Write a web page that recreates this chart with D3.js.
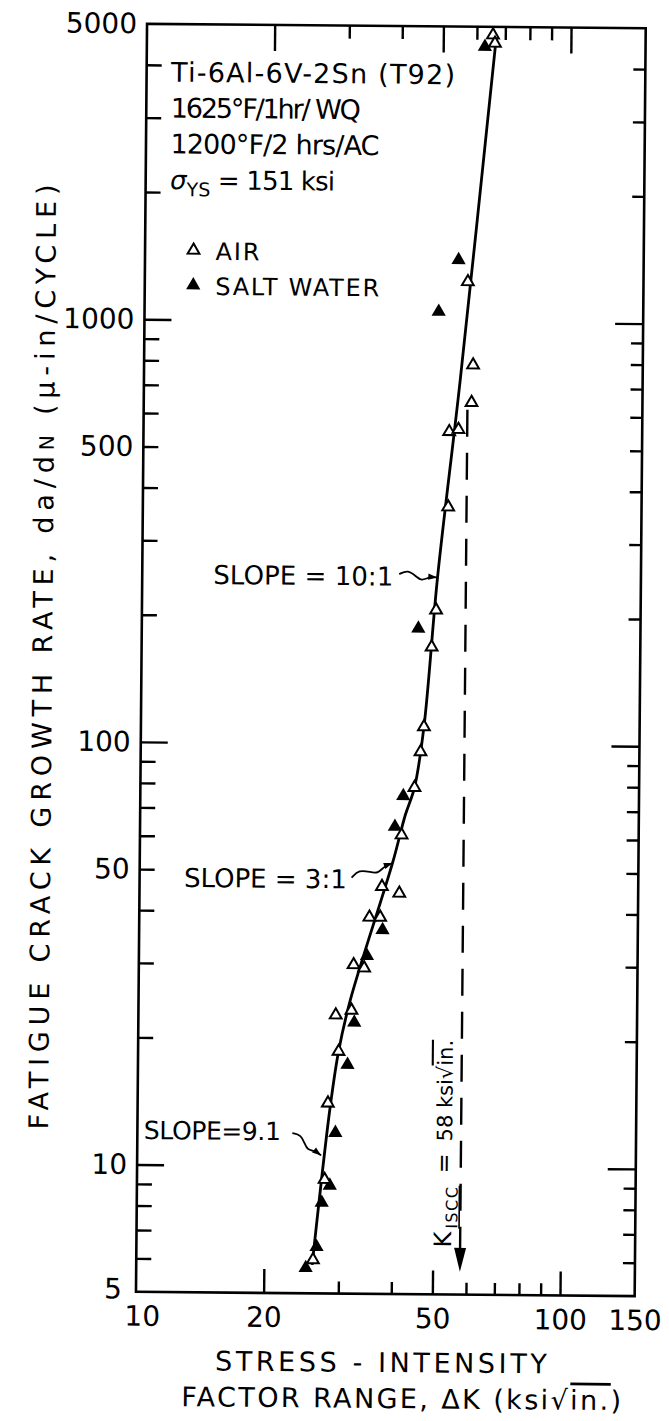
<!DOCTYPE html>
<html>
<head>
<meta charset="utf-8">
<script src="https://cdn.jsdelivr.net/npm/d3@7"></script>
<style>
  html, body { margin: 0; padding: 0; background: #fff; }
  svg { display: block; background: #fff; }
  text { font-family: "DejaVu Sans", sans-serif; fill: #000; }
</style>
</head>
<body>
<svg id="chart" width="669" height="1421"></svg>
<script>
// axis ticks
var xLabels = [10, 20, 50, 100, 150];
var xMajor = [20, 50, 100];
var xMinor = [30, 40, 60, 70, 80, 90];
var yLabels = [5, 10, 50, 100, 500, 1000, 5000];
var yMajor = [10, 100, 1000];
var yMinor = [6, 7, 8, 9, 20, 30, 40, 50, 60, 70, 80, 90,
	200, 300, 400, 500, 600, 700, 800, 900, 2000, 3000, 4000];

// AIR (open triangles): delta K (ksi sqrt in) and da/dN (micro-in/cycle)
var airDK = [65.5, 66.2, 57.8, 59.7, 59.3, 52.6, 55.3, 52.5, 49.4, 48.3, 46.5, 45.7, 44.3,
	41.4, 37.3, 41.0, 34.9, 37.0, 32.1, 34.0, 31.8, 29.2, 29.7, 28.1, 27.7, 26.1];
var airRate = [4785, 4573, 1246, 792, 645, 550, 557, 365, 208, 170, 110, 96, 79,
	61, 46, 44.4, 38.9, 38.9, 30.0, 29.5, 23.4, 22.8, 18.7, 14.1, 9.3, 6.0];

// SALT WATER (filled triangles)
var saltDK = [62.7, 54.9, 49.4, 44.9, 41.7, 39.9, 37.5, 34.5, 32.3, 31.2, 29.3, 28.5, 27.3, 26.6, 25.1];
var saltRate = [4486, 1402, 1057, 188, 75.4, 63.8, 36.3, 31.5, 21.9, 17.4, 12.0, 9.0, 8.2, 6.44, 5.74];

// faired curve through the data
var fitDK = [66.5, 55.7, 49.7, 46.5, 44.3, 42.2, 39.5, 31.6, 29.7, 28.4, 26.0];
var fitRate = [4600, 729, 248, 110, 79, 68, 52.5, 24.8, 18.7, 13.6, 5.84];

// K_ISCC marker line
var kIscc = 58;
var kIsccTop = 620;
var kIsccTip = 5.66;

var W = 498.7, H = 1268;
var svg = d3.select('#chart');

// the scan is tilted a little, so the whole chart is turned with it
var root = svg.append('g').attr('transform', 'rotate(0.5 391 660)');
var plot = root.append('g').attr('transform', 'translate(141.5,26)');

var x = d3.scaleLog().domain([10, 150]).range([0, W]);
var y = d3.scaleLog().domain([5, 5000]).range([H, 0]);

function ticks(axisFn, scale, vals, len, tx, ty) {
	var g = plot.append('g')
		.attr('transform', 'translate(' + tx + ',' + ty + ')')
		.call(axisFn(scale).tickValues(vals).tickSize(-len).tickFormat(''));
	g.select('.domain').remove();
	g.selectAll('line').attr('stroke', '#000').attr('stroke-width', 2.4);
}
ticks(d3.axisBottom, x, xMajor, 24, 0, H);
ticks(d3.axisBottom, x, xMinor, 12, 0, H);
ticks(d3.axisTop, x, xMajor, 26, 0, 0);
ticks(d3.axisTop, x, xMinor, 13, 0, 0);
ticks(d3.axisLeft, y, yMajor, 27, 0, 0);
ticks(d3.axisLeft, y, yMinor, 15, 0, 0);
ticks(d3.axisRight, y, yMajor, 28, W, 0);
ticks(d3.axisRight, y, yMinor, 12, W, 0);

plot.append('rect')
	.attr('width', W).attr('height', H)
	.attr('fill', 'none').attr('stroke', '#000').attr('stroke-width', 2.6);

// tick labels
var xl = plot.append('g').attr('transform', 'translate(0,' + H + ')')
	.call(d3.axisBottom(x).tickValues(xLabels).tickSize(0).tickPadding(14).tickFormat(d3.format('d')));
xl.select('.domain').remove();
xl.selectAll('text').attr('font-size', 28)
	.attr('dx', function (d) { return d === 10 ? 6 : 0; });

var yl = plot.append('g')
	.call(d3.axisLeft(y).tickValues(yLabels).tickSize(0).tickPadding(10).tickFormat(d3.format('d')));
yl.select('.domain').remove();
yl.selectAll('text').attr('font-size', 28)
	.attr('dx', function (d) { return d === 5 ? -4 : 0; })
	.attr('dy', function (d) { return d === 5 ? '0.22em' : '0.32em'; });

// K_ISCC dashed line with arrow
var kx = x(kIscc);
plot.append('line')
	.attr('x1', kx).attr('x2', kx)
	.attr('y1', y(kIsccTop)).attr('y2', y(kIsccTip) - 22)
	.attr('stroke', '#000').attr('stroke-width', 2.4)
	.attr('stroke-dasharray', '27,16');
plot.append('path')
	.attr('d', 'M' + (kx - 6) + ',' + (y(kIsccTip) - 24) + 'L' + (kx + 6) + ',' + (y(kIsccTip) - 24) +
		'L' + kx + ',' + y(kIsccTip) + 'Z')
	.attr('fill', '#000');

var kt = plot.append('text')
	.attr('transform', 'translate(' + (kx - 9) + ',' + (H - 47) + ') rotate(-90)')
	.attr('font-size', 24);
kt.append('tspan').text('K');
kt.append('tspan').attr('font-size', 16).attr('dy', 6).attr('dx', 3)
	.attr('letter-spacing', 1.5).style('text-decoration', 'underline').text('ISCC');
kt.append('tspan').attr('dy', -6).text('\u2002=\u2002');
kt.append('tspan').attr('font-size', 21).text('58 ksi\u221A');
kt.append('tspan').attr('font-size', 21).style('text-decoration', 'overline').text('in.');

// faired curve
var fitPts = fitDK.map(function (d, i) { return [x(d), y(fitRate[i])]; });
plot.append('path')
	.attr('d', d3.line().curve(d3.curveCatmullRom.alpha(0.5))(fitPts))
	.attr('fill', 'none').attr('stroke', '#000').attr('stroke-width', 2.8);

// data points
var openTri = d3.symbol().type(d3.symbolTriangle).size(60);
var fillTri = d3.symbol().type(d3.symbolTriangle).size(88);

plot.selectAll('.salt').data(saltDK).enter().append('path')
	.attr('class', 'salt')
	.attr('d', fillTri)
	.attr('transform', function (d, i) { return 'translate(' + x(d) + ',' + y(saltRate[i]) + ')'; })
	.attr('fill', '#000');

plot.selectAll('.air').data(airDK).enter().append('path')
	.attr('class', 'air')
	.attr('d', openTri)
	.attr('transform', function (d, i) { return 'translate(' + x(d) + ',' + y(airRate[i]) + ')'; })
	.attr('fill', '#fff').attr('stroke', '#000').attr('stroke-width', 2);

// material block
var header = [
	{ t: 'Ti-6Al-6V-2Sn (T92)', len: 284 },
	{ t: '1625\u00B0F/1hr/ WQ', len: 190 },
	{ t: '1200\u00B0F/2 hrs/AC', len: 209 }
];
header.forEach(function (h, i) {
	plot.append('text')
		.attr('x', 24.5).attr('y', 57.6 + i * 35.8)
		.attr('font-size', 27)
		.attr('textLength', h.len).attr('lengthAdjust', 'spacing')
		.text(h.t);
});
var sig = plot.append('text')
	.attr('x', 24.5).attr('y', 57.6 + 3 * 35.8)
	.attr('font-size', 26);
sig.append('tspan').attr('font-style', 'italic').text('\u03C3');
sig.append('tspan').attr('font-size', 19).attr('dy', 7).text('YS');
sig.append('tspan').attr('dy', -7).attr('letter-spacing', -0.8).text(' = 151 ksi');

// legend
plot.append('path').attr('d', openTri)
	.attr('transform', 'translate(48.5,226)')
	.attr('fill', '#fff').attr('stroke', '#000').attr('stroke-width', 2);
plot.append('path').attr('d', fillTri)
	.attr('transform', 'translate(48.5,261)').attr('fill', '#000');
plot.append('text').attr('x', 70.5).attr('y', 235.5).attr('font-size', 24)
	.attr('textLength', 44).attr('lengthAdjust', 'spacing').text('AIR');
plot.append('text').attr('x', 70.5).attr('y', 270.5).attr('font-size', 24)
	.attr('textLength', 164).attr('lengthAdjust', 'spacing').text('SALT WATER');

// slope notes with wavy leaders
function leader(x0, y0, x1, y1, amp) {
	var dx = x1 - x0, dy = y1 - y0, L = Math.hypot(dx, dy),
		ux = dx / L, uy = dy / L, nx = -uy, ny = ux;
	function p(t, o) { return [x0 + dx * t + nx * o, y0 + dy * t + ny * o]; }
	var pts = [p(0, 0), p(0.22, -amp), p(0.45, amp * 0.2), p(0.6, amp), p(0.8, 0), p(1, 0)];
	plot.append('path')
		.attr('d', d3.line().curve(d3.curveBasis)(pts))
		.attr('fill', 'none').attr('stroke', '#000').attr('stroke-width', 1.8);
	plot.append('path')
		.attr('d', 'M' + x1 + ',' + y1 +
			'L' + (x1 - ux * 9 + nx * 3.2) + ',' + (y1 - uy * 9 + ny * 3.2) +
			'L' + (x1 - ux * 9 - nx * 3.2) + ',' + (y1 - uy * 9 - ny * 3.2) + 'Z')
		.attr('fill', '#000');
}

plot.append('text').attr('x', 71.1).attr('y', 559.6).attr('font-size', 26)
	.attr('textLength', 180).attr('lengthAdjust', 'spacing').text('SLOPE = 10:1');
leader(257, 548, 295, 551, 5);

plot.append('text').attr('x', 207.2).attr('y', 862.7).attr('font-size', 26)
	.attr('text-anchor', 'end').text('SLOPE = 3:1');
leader(212, 852, 253, 837, 5);

plot.append('text').attr('x', 6.5).attr('y', 1115.2).attr('font-size', 25)
	.attr('textLength', 137).attr('lengthAdjust', 'spacing').text('SLOPE=9.1');
leader(155, 1108, 184, 1130, 4);

// axis titles
var yt = plot.append('text')
	.attr('transform', 'translate(-89.5,' + (H / 2) + ') rotate(-90)')
	.attr('text-anchor', 'middle').attr('font-size', 27)
	.attr('textLength', 945).attr('lengthAdjust', 'spacing');
yt.append('tspan').text('FATIGUE CRACK GROWTH RATE, da/d');
yt.append('tspan').attr('font-size', 20).text('N');
yt.append('tspan').text(' (\u03BC-in/CYCLE)');

plot.append('text')
	.attr('x', W / 2 - 2).attr('y', H + 78)
	.attr('text-anchor', 'middle').attr('font-size', 27)
	.attr('letter-spacing', 3.6)
	.text('STRESS - INTENSITY');

var xt = plot.append('text')
	.attr('x', W / 2 + 18).attr('y', H + 114)
	.attr('text-anchor', 'middle').attr('font-size', 27)
	.attr('letter-spacing', 2.4);
xt.append('tspan').text('FACTOR RANGE, \u0394K (ksi\u221A');
xt.append('tspan').style('text-decoration', 'overline').text('in.');
xt.append('tspan').text(')');
</script>
</body>
</html>
